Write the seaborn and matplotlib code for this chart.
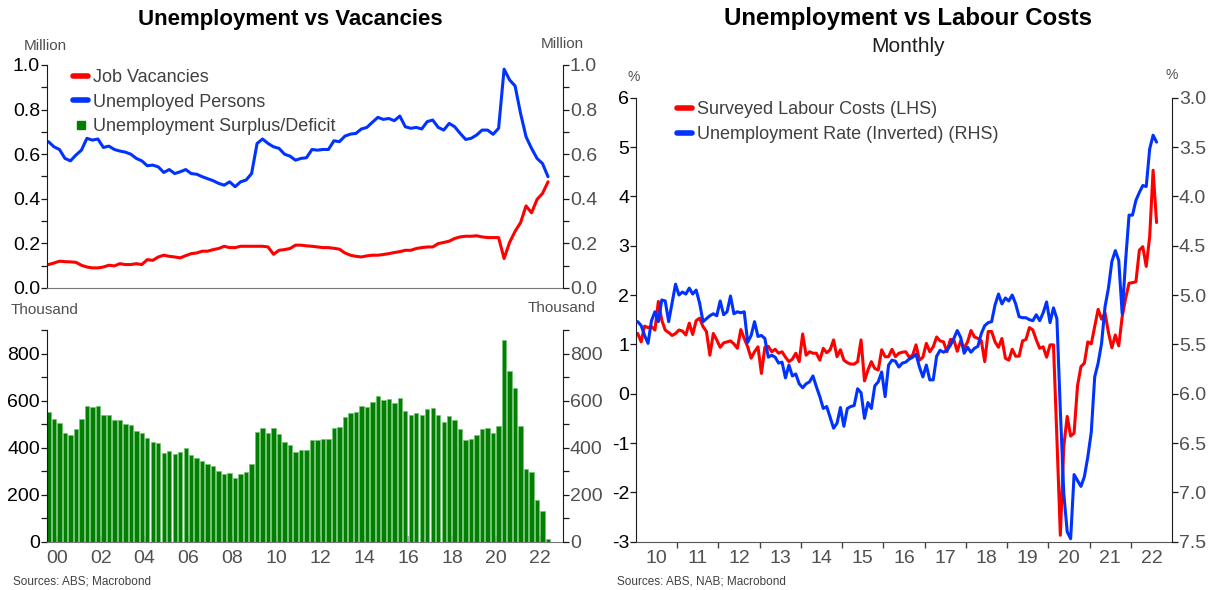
import numpy as np
import pandas as pd
import matplotlib
matplotlib.use("Agg")
import matplotlib.pyplot as plt
import seaborn as sns
from matplotlib.lines import Line2D
from matplotlib.ticker import MultipleLocator, FixedLocator, FixedFormatter, NullFormatter, FormatStrFormatter

sns.set_style("ticks")
plt.rcParams["font.family"] = ["Liberation Sans", "DejaVu Sans"]
plt.rcParams["axes.unicode_minus"] = False

# -----------------------------
# Data: quarterly (Aug 1999 - May 2022)
# -----------------------------
q_start, q_end = "1999-07-01", "2022-04-01"

# Job vacancies, million
vacancies = [
    0.105, 0.112, 0.120, 0.118, 0.117, 0.115, 0.102, 0.094, 0.090, 0.090,
    0.094, 0.102, 0.099, 0.109, 0.105, 0.105, 0.109, 0.105, 0.127, 0.124,
    0.139, 0.147, 0.142, 0.139, 0.135, 0.145, 0.154, 0.157, 0.165, 0.165,
    0.172, 0.177, 0.187, 0.181, 0.181, 0.187, 0.187, 0.187, 0.187, 0.187,
    0.184, 0.151, 0.169, 0.172, 0.177, 0.192, 0.192, 0.189, 0.187, 0.184,
    0.181, 0.181, 0.178, 0.174, 0.157, 0.147, 0.142, 0.139, 0.144, 0.147,
    0.147, 0.150, 0.154, 0.159, 0.163, 0.169, 0.169, 0.177, 0.181, 0.184,
    0.184, 0.199, 0.204, 0.210, 0.222, 0.229, 0.232, 0.232, 0.234, 0.229,
    0.226, 0.226, 0.226, 0.132, 0.204, 0.254, 0.293, 0.368, 0.337, 0.397,
    0.424, 0.476,
]

# Unemployed persons, million
unemployed = [
    0.656, 0.633, 0.621, 0.581, 0.570, 0.596, 0.618, 0.671, 0.663, 0.668,
    0.630, 0.636, 0.621, 0.614, 0.609, 0.600, 0.581, 0.570, 0.548, 0.551,
    0.543, 0.518, 0.531, 0.513, 0.521, 0.531, 0.513, 0.510, 0.499, 0.490,
    0.481, 0.469, 0.461, 0.476, 0.454, 0.476, 0.484, 0.513, 0.648, 0.668,
    0.648, 0.633, 0.626, 0.600, 0.591, 0.573, 0.581, 0.584, 0.621, 0.618,
    0.621, 0.621, 0.660, 0.656, 0.681, 0.690, 0.693, 0.713, 0.720, 0.743,
    0.765, 0.756, 0.760, 0.750, 0.771, 0.723, 0.716, 0.720, 0.713, 0.746,
    0.753, 0.720, 0.708, 0.738, 0.723, 0.693, 0.666, 0.671, 0.686, 0.708,
    0.708, 0.689, 0.716, 0.981, 0.933, 0.906, 0.783, 0.678, 0.626, 0.581,
    0.558, 0.499,
]

# Unemployment surplus/deficit, thousand
surplus = [
    551, 520, 503, 464, 456, 481, 520, 576, 573, 579,
    537, 541, 518, 517, 501, 498, 471, 462, 443, 423,
    419, 378, 388, 374, 382, 398, 368, 355, 345, 330,
    321, 302, 289, 292, 272, 290, 297, 333, 467, 486,
    464, 484, 457, 425, 411, 382, 392, 391, 435, 435,
    436, 438, 486, 490, 532, 548, 551, 576, 575, 593,
    619, 603, 607, 589, 610, 558, 541, 549, 537, 564,
    569, 537, 508, 534, 517, 479, 435, 439, 455, 481,
    483, 463, 491, 857, 724, 653, 494, 310, 295, 180,
    132, 13,
]

# -----------------------------
# Data: monthly (Jan 2010 - Aug 2022)
# -----------------------------
m_start, m_end = "2010-01-01", "2022-08-01"

# Surveyed labour costs, % (LHS)
labour_costs = [
    1.22, 1.05, 1.37, 1.34, 1.36, 1.29, 1.87, 1.49, 1.29, 1.24,
    1.18, 1.22, 1.29, 1.27, 1.19, 1.43, 1.20, 1.48, 1.53, 1.36,
    1.26, 0.78, 1.22, 1.09, 0.94, 1.03, 1.05, 1.07, 1.01, 0.92,
    1.30, 1.12, 0.95, 0.72, 0.85, 0.95, 0.41, 0.94, 0.96, 0.85,
    0.90, 0.82, 0.85, 0.74, 0.65, 0.70, 0.82, 0.65, 1.21, 0.78,
    0.85, 0.82, 0.82, 0.68, 0.92, 0.83, 0.89, 1.09, 0.75, 0.89,
    0.68, 0.63, 0.60, 0.60, 0.65, 1.09, 0.26, 0.48, 0.65, 0.51,
    0.48, 0.89, 0.75, 0.75, 0.90, 0.75, 0.82, 0.84, 0.85, 0.74,
    0.78, 0.99, 0.68, 0.74, 1.02, 0.85, 0.95, 1.15, 1.07, 1.05,
    0.85, 1.10, 1.09, 0.86, 1.07, 0.92, 1.05, 1.28, 1.15, 1.12,
    1.07, 0.65, 1.26, 1.26, 1.05, 0.94, 1.12, 0.72, 0.68, 0.90,
    0.76, 0.76, 1.07, 1.10, 1.34, 1.29, 1.09, 0.92, 0.95, 0.74,
    0.99, 0.99, -0.90, -2.87, -1.07, -0.46, -0.86, -0.80, 0.16, 0.55,
    0.62, 1.05, 1.01, 1.36, 1.71, 1.51, 1.64, 1.24, 0.93, 1.19,
    0.97, 1.56, 1.93, 2.24, 2.25, 2.27, 2.91, 2.98, 2.58, 3.18,
    4.53, 3.47,
]

# Unemployment rate, % (RHS, inverted)
unemp_rate = [
    5.27, 5.31, 5.41, 5.49, 5.26, 5.17, 5.27, 5.05, 5.06, 5.27,
    5.08, 4.89, 5.00, 4.97, 4.99, 4.93, 4.99, 4.95, 5.08, 5.27,
    5.24, 5.21, 5.19, 5.21, 5.06, 5.20, 5.17, 5.01, 5.19, 5.17,
    5.18, 5.17, 5.48, 5.41, 5.27, 5.42, 5.41, 5.44, 5.63, 5.61,
    5.63, 5.69, 5.68, 5.84, 5.71, 5.82, 5.80, 5.90, 5.94, 5.90,
    5.88, 5.82, 5.93, 6.03, 6.15, 6.13, 6.24, 6.35, 6.30, 6.14,
    6.33, 6.15, 6.13, 6.12, 5.95, 5.99, 6.25, 6.09, 6.15, 5.92,
    5.88, 5.78, 6.03, 5.71, 5.66, 5.67, 5.73, 5.69, 5.68, 5.65,
    5.63, 5.60, 5.73, 5.83, 5.71, 5.86, 5.86, 5.62, 5.56, 5.58,
    5.56, 5.51, 5.44, 5.36, 5.43, 5.59, 5.53, 5.58, 5.54, 5.52,
    5.39, 5.31, 5.28, 5.27, 5.10, 4.99, 5.09, 5.03, 5.06, 5.00,
    5.09, 5.22, 5.23, 5.23, 5.25, 5.26, 5.20, 5.26, 5.18, 5.07,
    5.28, 5.13, 5.24, 6.17, 7.01, 7.40, 7.47, 6.82, 6.88, 6.94,
    6.84, 6.64, 6.39, 5.83, 5.69, 5.49, 5.12, 4.93, 4.66, 4.55,
    4.65, 5.19, 4.65, 4.19, 4.19, 4.04, 3.96, 3.89, 3.90, 3.52,
    3.38, 3.45,
]

left_years = list(range(2000, 2023, 2))
left_year_labels = [f"{y % 100:02d}" for y in left_years]
right_years = list(range(2010, 2023))
right_year_labels = [f"{y % 100:02d}" for y in right_years]

# -----------------------------
# Frames
# -----------------------------
q_dates = pd.date_range(q_start, q_end, freq="QS")
df_q = pd.DataFrame({
    "x": q_dates.year + (q_dates.month - 1) / 12 + 0.125,
    "vacancies": vacancies,
    "unemployed": unemployed,
    "surplus": surplus,
})

m_dates = pd.date_range(m_start, m_end, freq="MS")
df_m = pd.DataFrame({
    "x": m_dates.year + (m_dates.month - 1) / 12 + 1 / 24,
    "labour": labour_costs,
    "urate": unemp_rate,
})

RED = "#ff0000"
BLUE = "#0033ff"
GREEN = "#007f00"
GREY = "#505050"
DARK = "#1a1a1a"
TICK = 14
LW = 2.2

fig = plt.figure(figsize=(12.08, 5.9), dpi=100)
ax1 = fig.add_axes([0.0389, 0.5119, 0.4272, 0.3780])
ax2 = fig.add_axes([0.0389, 0.0814, 0.4272, 0.3593])
ax3 = fig.add_axes([0.5265, 0.0819, 0.4437, 0.7525])

# -----------------------------
# Left top: vacancies vs unemployed
# -----------------------------
sns.lineplot(data=df_q, x="x", y="vacancies", ax=ax1, color=RED, lw=LW)
sns.lineplot(data=df_q, x="x", y="unemployed", ax=ax1, color=BLUE, lw=LW)
xlim_left = (1999.557, 2023.06)
ax1.set_xlim(xlim_left)
ax1.set_ylim(0, 1)
ax1.set_xlabel("")
ax1.set_ylabel("")
ax1.set_xticks([])
ax1r = ax1.twinx()
ax1r.set_ylim(0, 1)

for a in (ax1, ax1r):
    a.yaxis.set_major_locator(MultipleLocator(0.2))
    a.yaxis.set_minor_locator(MultipleLocator(0.1))
    a.yaxis.set_major_formatter(FormatStrFormatter("%.1f"))

# -----------------------------
# Left bottom: surplus bars
# -----------------------------
sns.barplot(data=df_q, x="x", y="surplus", ax=ax2, native_scale=True,
            color=GREEN, saturation=1, errorbar=None,
            edgecolor="#74c274", linewidth=0.5)
ax2.set_xlim(xlim_left)
ax2.set_ylim(0, 900)
ax2.set_xlabel("")
ax2.set_ylabel("")
ax2.xaxis.set_major_locator(FixedLocator(left_years))
ax2.xaxis.set_major_formatter(FixedFormatter(left_year_labels))
ax2.xaxis.set_minor_locator(FixedLocator([]))
ax2r = ax2.twinx()
ax2r.set_ylim(0, 900)
for a in (ax2, ax2r):
    a.yaxis.set_major_locator(MultipleLocator(200))
    a.yaxis.set_minor_locator(MultipleLocator(100))
ax2.tick_params(axis="x", direction="in", length=4, width=1.2, color="#999999",
                labelsize=TICK, labelcolor=GREY, pad=6)

for a, ar in ((ax1, ax1r), (ax2, ax2r)):
    a.spines["top"].set_visible(False)
    a.spines["right"].set_visible(False)
    a.spines["bottom"].set_color("#777777")
    a.spines["left"].set_color(DARK)
    for s in ("top", "left", "bottom"):
        ar.spines[s].set_visible(False)
    ar.spines["right"].set_color(DARK)
    a.tick_params(axis="y", which="both", direction="out", length=4, width=0.9,
                  color=DARK, labelsize=TICK, labelcolor="#000000", pad=1)
    ar.tick_params(axis="y", which="both", direction="out", length=4, width=0.9,
                   color=DARK, labelsize=TICK, labelcolor=GREY, pad=1)

# -----------------------------
# Right: labour costs vs unemployment rate
# -----------------------------
sns.lineplot(data=df_m, x="x", y="labour", ax=ax3, color=RED, lw=LW)
ax3r = ax3.twinx()
sns.lineplot(data=df_m, x="x", y="urate", ax=ax3r, color=BLUE, lw=LW)
ax3.set_xlim(2010, 2023)
ax3.set_ylim(-3, 6)
ax3r.set_ylim(7.5, 3.0)
for a in (ax3, ax3r):
    a.set_xlabel("")
    a.set_ylabel("")
ax3.yaxis.set_major_locator(MultipleLocator(1))
ax3.yaxis.set_major_formatter(FormatStrFormatter("%d"))
ax3r.yaxis.set_major_locator(MultipleLocator(0.5))
ax3r.yaxis.set_major_formatter(FormatStrFormatter("%.1f"))
ax3.xaxis.set_major_locator(FixedLocator(right_years[1:]))
ax3.xaxis.set_major_formatter(NullFormatter())
ax3.xaxis.set_minor_locator(FixedLocator([y + 0.5 for y in right_years]))
ax3.xaxis.set_minor_formatter(FixedFormatter(right_year_labels))
ax3.tick_params(axis="x", which="major", direction="out", length=4, width=1,
                color="#444444")
ax3.tick_params(axis="x", which="minor", length=0, labelsize=TICK,
                labelcolor=GREY, pad=6)
ax3.tick_params(axis="y", direction="out", length=4, width=0.9, color=DARK,
                labelsize=TICK, labelcolor="#000000", pad=1)
ax3r.tick_params(axis="y", direction="out", length=4, width=0.9, color=DARK,
                 labelsize=TICK, labelcolor=GREY, pad=1)
ax3.spines["top"].set_visible(False)
ax3.spines["right"].set_visible(False)
ax3.spines["bottom"].set_color("#555555")
ax3.spines["left"].set_color(DARK)
for s in ("top", "left", "bottom"):
    ax3r.spines[s].set_visible(False)
ax3r.spines["right"].set_color(DARK)

# -----------------------------
# Legends
# -----------------------------
leg_kw = dict(loc="upper left", frameon=False, fontsize=13, handlelength=0.85,
              handletextpad=0.25, labelspacing=0.42, borderpad=0,
              borderaxespad=0, labelcolor="#404040")
h_left = [
    Line2D([], [], color=RED, lw=4),
    Line2D([], [], color=BLUE, lw=4),
    Line2D([], [], color=GREEN, marker="s", ls="none", markersize=6),
]
fig.legend(h_left, ["Job Vacancies", "Unemployed Persons",
                    "Unemployment Surplus/Deficit"],
           bbox_to_anchor=(0.0604, 0.883), **leg_kw)
h_right = [Line2D([], [], color=RED, lw=4), Line2D([], [], color=BLUE, lw=4)]
fig.legend(h_right, ["Surveyed Labour Costs (LHS)",
                     "Unemployment Rate (Inverted) (RHS)"],
           bbox_to_anchor=(0.5604, 0.828), **leg_kw)

# -----------------------------
# Titles and notes
# -----------------------------
fig.text(290 / 1208, 1 - 19 / 590, "Unemployment vs Vacancies", ha="center",
         va="center", fontsize=16, fontweight="bold", color="#000000")
fig.text(908 / 1208, 1 - 19 / 590, "Unemployment vs Labour Costs", ha="center",
         va="center", fontsize=17.3, fontweight="bold", color="#000000")
fig.text(908 / 1208, 1 - 46 / 590, "Monthly", ha="center", va="center",
         fontsize=15, color="#202020")

unit_kw = dict(ha="center", va="center", fontsize=11, color=GREY)
fig.text(45 / 1208, 1 - 46 / 590, "Million", **unit_kw)
fig.text(562 / 1208, 1 - 44 / 590, "Million", **unit_kw)
fig.text(45 / 1208, 1 - 310 / 590, "Thousand", **unit_kw)
fig.text(562 / 1208, 1 - 308 / 590, "Thousand", **unit_kw)
fig.text(634 / 1208, 1 - 77 / 590, "%", ha="center", va="center", fontsize=10, color=GREY)
fig.text(1172 / 1208, 1 - 75 / 590, "%", ha="center", va="center", fontsize=10, color=GREY)

fig.text(13 / 1208, 1 - 582 / 590, "Sources: ABS; Macrobond", ha="left",
         va="center", fontsize=8.5, color="#404040")
fig.text(617 / 1208, 1 - 582 / 590, "Sources: ABS, NAB; Macrobond", ha="left",
         va="center", fontsize=8.5, color="#404040")

fig.savefig("out.png", dpi=100)
